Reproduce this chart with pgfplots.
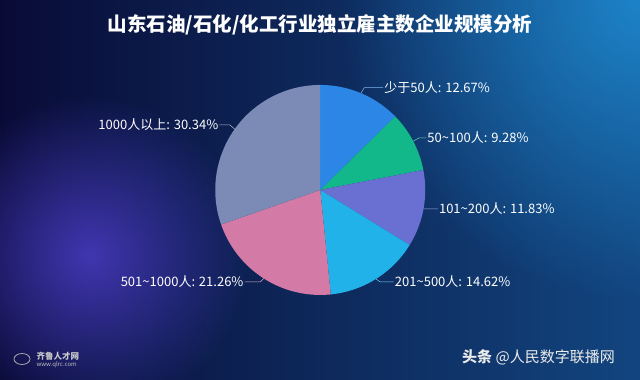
\documentclass[border=0pt]{standalone}
\usepackage{pgfplots}
\pgfplotsset{compat=1.18}
\usepackage{fontspec}
\setmainfont{Noto Sans CJK SC}
\usetikzlibrary{fadings}
\definecolor{cA}{HTML}{2B86E6}
\definecolor{cB}{HTML}{12B78A}
\definecolor{cC}{HTML}{6A70D2}
\definecolor{cD}{HTML}{20B2E9}
\definecolor{cE}{HTML}{D37AA6}
\definecolor{cF}{HTML}{7B8BB6}
\definecolor{bgL}{HTML}{090B36}
\definecolor{bgR}{HTML}{12457F}
\definecolor{glowP}{HTML}{4A3CC4}
\definecolor{glowB}{HTML}{1E8AD0}
\tikzfading[name=glow, inner color=transparent!0, outer color=transparent!100]
\begin{document}
\begin{tikzpicture}[x=1pt,y=1pt]
% data (percent)
\pgfmathsetmacro{\vA}{12.67}
\pgfmathsetmacro{\vB}{9.28}
\pgfmathsetmacro{\vC}{11.83}
\pgfmathsetmacro{\vD}{14.62}
\pgfmathsetmacro{\vE}{21.26}
\pgfmathsetmacro{\vF}{30.34}
\pgfmathsetmacro{\bA}{90}
\pgfmathsetmacro{\bB}{\bA-3.6*\vA}
\pgfmathsetmacro{\bC}{\bB-3.6*\vB}
\pgfmathsetmacro{\bD}{\bC-3.6*\vC}
\pgfmathsetmacro{\bE}{\bD-3.6*\vD}
\pgfmathsetmacro{\bF}{\bE-3.6*\vE}
\pgfmathsetmacro{\bG}{\bF-3.6*\vF}
% background
\fill[left color=bgL, right color=bgR] (0,0) rectangle (640,380);
\begin{scope}
\clip (0,0) rectangle (640,380);
\fill[glowB, path fading=glow, opacity=0.9] (640,380) circle (300);
\fill[glowP, path fading=glow, opacity=0.85] (90,125) circle (160);
\end{scope}
\node[font=\bfseries\fontsize{19.5}{22}\selectfont, text=white] at (320,355) {山东石油/石化/化工行业独立雇主数企业规模分析};
% watermarks
\draw[gray!70, line width=0.8pt] (22,21) ellipse (8 and 5.5);
\node[font=\bfseries\fontsize{8.5}{10}\selectfont, text=gray!40, anchor=west] at (33,24) {齐鲁人才网};
\node[font=\fontsize{6}{7}\selectfont, text=gray!50, anchor=west] at (33,15) {www.qlrc.com};
\node[font=\fontsize{15}{18}\selectfont, text=white!92!black, anchor=west, inner sep=0pt] at (462,23) {\textbf{头条} @人民数字联播网};
\begin{axis}[at={(205,81)}, anchor=south west, scale only axis, width=210pt, height=210pt,
  xmin=-1, xmax=1, ymin=-1, ymax=1, hide axis, clip=false]
\addplot[draw=none, fill=cA, domain=\bB:\bA, samples=40, variable=\t] ({cos(t)},{sin(t)}) -- (axis cs:0,0) -- cycle;
\addplot[draw=none, fill=cB, domain=\bC:\bB, samples=40, variable=\t] ({cos(t)},{sin(t)}) -- (axis cs:0,0) -- cycle;
\addplot[draw=none, fill=cC, domain=\bD:\bC, samples=40, variable=\t] ({cos(t)},{sin(t)}) -- (axis cs:0,0) -- cycle;
\addplot[draw=none, fill=cD, domain=\bE:\bD, samples=40, variable=\t] ({cos(t)},{sin(t)}) -- (axis cs:0,0) -- cycle;
\addplot[draw=none, fill=cE, domain=\bF:\bE, samples=40, variable=\t] ({cos(t)},{sin(t)}) -- (axis cs:0,0) -- cycle;
\addplot[draw=none, fill=cF, domain=\bG:\bF, samples=60, variable=\t] ({cos(t)},{sin(t)}) -- (axis cs:0,0) -- cycle;
% leaders and labels
\draw[cA!60!white, line width=0.5pt] (axis cs:0.388,0.922) -- (axis cs:0.42,0.975) -- (axis cs:0.60,0.975);
\node[anchor=west, text=white, font=\fontsize{13}{15}\selectfont, inner sep=1pt] at (axis cs:0.60,0.975) {少于50人: 12.67\%};
\draw[cB!60!white, line width=0.5pt] (axis cs:0.885,0.465) -- (axis cs:0.94,0.495) -- (axis cs:1.01,0.495);
\node[anchor=west, text=white, font=\fontsize{13}{15}\selectfont, inner sep=1pt] at (axis cs:1.01,0.495) {50\textasciitilde100人: 9.28\%};
\draw[cC!60!white, line width=0.5pt] (axis cs:0.984,-0.179) -- (axis cs:1.04,-0.181) -- (axis cs:1.12,-0.181);
\node[anchor=west, text=white, font=\fontsize{13}{15}\selectfont, inner sep=1pt] at (axis cs:1.12,-0.181) {101\textasciitilde200人: 11.83\%};
\draw[cD!60!white, line width=0.5pt] (axis cs:0.531,-0.848) -- (axis cs:0.57,-0.876) -- (axis cs:0.70,-0.876);
\node[anchor=west, text=white, font=\fontsize{13}{15}\selectfont, inner sep=1pt] at (axis cs:0.70,-0.876) {201\textasciitilde500人: 14.62\%};
\draw[cE!60!white, line width=0.5pt] (axis cs:-0.537,-0.843) -- (axis cs:-0.57,-0.876) -- (axis cs:-0.72,-0.876);
\node[anchor=east, text=white, font=\fontsize{13}{15}\selectfont, inner sep=1pt] at (axis cs:-0.72,-0.876) {501\textasciitilde1000人: 21.26\%};
\draw[cF!60!white, line width=0.5pt] (axis cs:-0.815,0.579) -- (axis cs:-0.86,0.619) -- (axis cs:-0.96,0.619);
\node[anchor=east, text=white, font=\fontsize{13}{15}\selectfont, inner sep=1pt] at (axis cs:-0.96,0.619) {1000人以上: 30.34\%};
\end{axis}
\end{tikzpicture}
\end{document}
